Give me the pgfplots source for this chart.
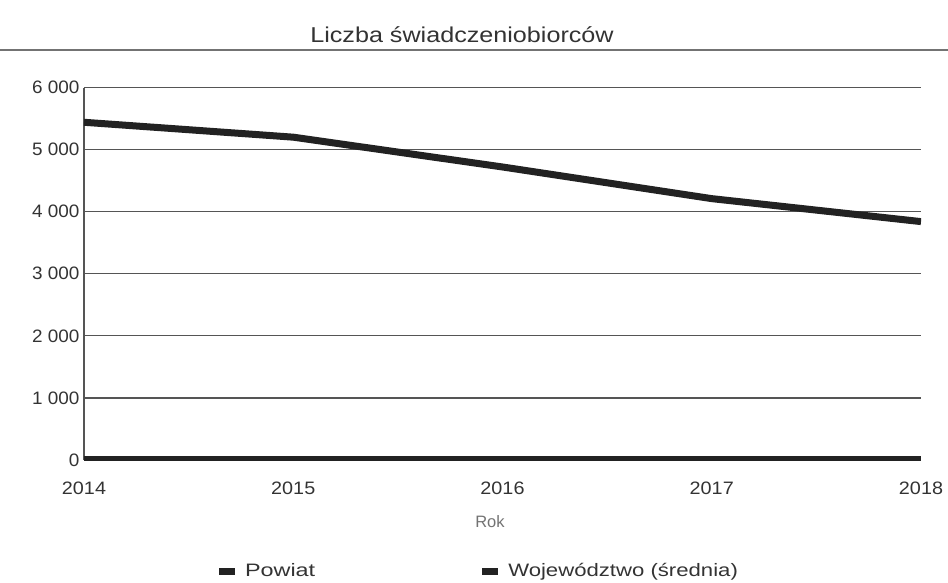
\documentclass[border=0pt]{standalone}
\usepackage{pgfplots}
\pgfplotsset{compat=1.18}
\usepackage{fontspec}
\setmainfont{Liberation Sans}
\definecolor{txt}{HTML}{333333}
\definecolor{gridc}{HTML}{555555}
\definecolor{linec}{HTML}{222222}
\begin{document}
\begin{tikzpicture}[x=1pt,y=1pt]
\path[use as bounding box] (0,0) rectangle (948,582);
\draw[color=black!55, line width=2pt] (0,532) -- (948,532);
\node[txt, inner sep=0pt] at (462,547) {\fontsize{21.5}{24}\selectfont\scalebox{1.17}[1]{Liczba świadczeniobiorców}};
\begin{axis}[
  at={(84pt,122pt)}, anchor=south west,
  scale only axis, width=837pt, height=372.5pt,
  xmin=2014, xmax=2018, ymin=0, ymax=6000,
  xtick={2014,2015,2016,2017,2018},
  xticklabels={\scalebox{1.1}[1]{2014},\scalebox{1.1}[1]{2015},\scalebox{1.1}[1]{2016},\scalebox{1.1}[1]{2017},\scalebox{1.1}[1]{2018}},
  ytick={0,1000,2000,3000,4000,5000,6000},
  yticklabel={\scalebox{1.05}[1]{\pgfmathprintnumber{\tick}}},
  scaled y ticks=false,
  /pgf/number format/.cd, 1000 sep={\ }, assume math mode=true, /pgfplots/.cd,
  axis x line*=bottom, axis y line*=left,
  axis line style={-, color=gridc, line width=1.2pt},
  major tick length=0pt,
  ymajorgrids, grid style={color=gridc, line width=1.3pt},
  tick label style={font=\fontsize{18}{21}\selectfont, text=txt},
  xticklabel style={yshift=-18pt},
  yticklabel style={xshift=-1pt},
  xlabel={Rok},
  xlabel style={at={(axis description cs:0.485,-0.166)}, anchor=center, font=\fontsize{16.5}{19}\selectfont, text=black!55},
  legend columns=2,
  legend style={at={(axis description cs:0.4725,-0.298)}, anchor=center, draw=none, fill=none,
    font=\fontsize{18}{21}\selectfont, text=txt,
    /tikz/every odd column/.append style={column sep=0pt},
    /tikz/every even column/.append style={column sep=165pt}},
  legend image code/.code={\path[draw=none,fill=none] (0pt,0pt) -- (24pt,0pt); \fill[draw=none, fill=linec] (0pt,-3.5pt) rectangle (16pt,3.5pt);},
]
\addplot[color=linec, line width=7pt] coordinates {(2014,5440) (2015,5200) (2016,4720) (2017,4210) (2018,3840)};
\addlegendentry{\scalebox{1.3}[1]{Powiat}}
\addplot[color=linec, line width=7pt] coordinates {(2014,15) (2015,15) (2016,15) (2017,15) (2018,15)};
\addlegendentry{\scalebox{1.23}[1]{Województwo (średnia)}}
\end{axis}
\end{tikzpicture}
\end{document}
